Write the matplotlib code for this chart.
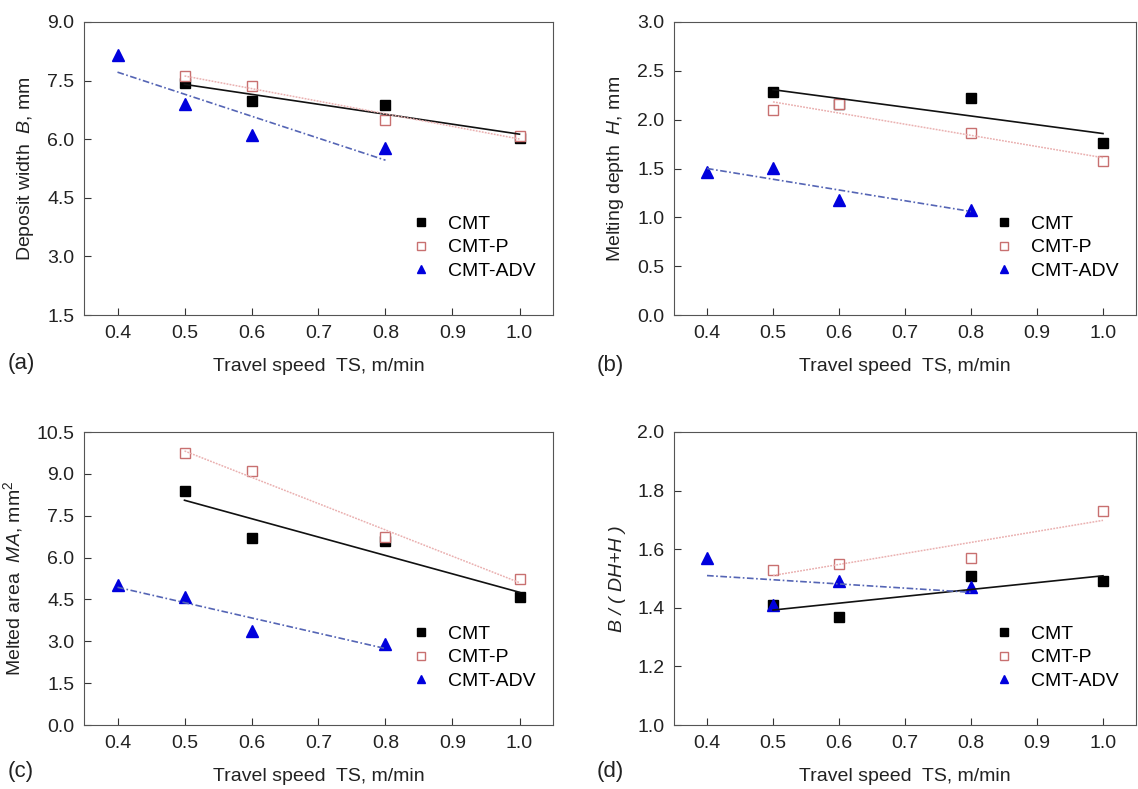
import numpy as np
import matplotlib.pyplot as plt

plt.rcParams['font.family'] = ['Liberation Sans', 'DejaVu Sans']
plt.rcParams['mathtext.fontset'] = 'custom'
plt.rcParams['mathtext.rm'] = 'Liberation Sans'
plt.rcParams['mathtext.it'] = 'Liberation Sans:italic'

# travel speed, m/min
ts_cmt = [0.5, 0.6, 0.8, 1.0]
ts_p = [0.5, 0.6, 0.8, 1.0]
ts_adv = [0.4, 0.5, 0.6, 0.8]

# (a) deposit width B, mm
b_cmt = [7.45, 6.97, 6.88, 6.02]
b_p = [7.62, 7.37, 6.50, 6.08]
b_adv = [8.15, 6.90, 6.10, 5.77]

# (b) melting depth H, mm
h_cmt = [2.28, 2.16, 2.22, 1.76]
h_p = [2.10, 2.16, 1.86, 1.58]
h_adv = [1.46, 1.51, 1.18, 1.08]

# (c) melted area MA, mm2
ma_cmt = [8.40, 6.70, 6.60, 4.58]
ma_p = [9.75, 9.10, 6.72, 5.22]
ma_adv = [5.02, 4.58, 3.38, 2.92]

# (d) B/(DH+H)
r_cmt = [1.41, 1.37, 1.51, 1.49]
r_p = [1.53, 1.55, 1.57, 1.73]
r_adv = [1.57, 1.41, 1.49, 1.47]

labels = ['CMT', 'CMT-P', 'CMT-ADV']

W, H = 1138, 789
fig = plt.figure(figsize=(W / 100, H / 100), dpi=100)


def box(l, t, r, b):
    return [l / W, 1 - b / H, (r - l) / W, (b - t) / H]


def panel(rect, ys, ylim, yticks, ylabel, letter, letter_x, letter_y):
    ax = fig.add_axes(rect)
    xs = [ts_cmt, ts_p, ts_adv]
    # linear fit lines
    styles = [dict(color='#111111', ls='-', lw=1.2),
              dict(color='#eab0b0', ls=(0, (1.2, 0.8)), lw=1.1),
              dict(color='#5565b5', ls=(0, (4, 1.5, 1, 1.5)), lw=1.2)]
    for x, y, st in zip(xs, ys, styles):
        k, c = np.polyfit(x, y, 1)
        xx = np.array([min(x), max(x)])
        ax.plot(xx, k * xx + c, zorder=3, **st)
    ax.plot(ts_cmt, ys[0], ls='none', marker='s', ms=7, color='black',
            label=labels[0], zorder=2)
    ax.plot(ts_p, ys[1], ls='none', marker='s', ms=7, mfc='white',
            mec='#c87070', mew=1.0, label=labels[1], zorder=2)
    ax.plot(ts_adv, ys[2], ls='none', marker='^', ms=8, color='#0000dd',
            label=labels[2], zorder=2)
    ax.set_xlim(0.35, 1.05)
    ax.set_xticks([0.4, 0.5, 0.6, 0.7, 0.8, 0.9, 1.0])
    ax.set_ylim(*ylim)
    ax.set_yticks(yticks)
    ax.yaxis.set_major_formatter(plt.FormatStrFormatter('%.1f'))
    ax.tick_params(direction='in', length=5, labelsize=14, colors='#333333',
                   labelcolor='#222222', pad=7)
    for s in ax.spines.values():
        s.set_color('#555555')
    ax.set_xlabel('Travel speed  TS, m/min', fontsize=14, labelpad=12, color='#222222')
    if isinstance(ylabel, tuple):
        ax.set_ylabel(ylabel[0], fontsize=14, style='italic', color='#222222', labelpad=8)
    else:
        ax.set_ylabel(ylabel, fontsize=14, color='#222222', labelpad=8)
    ax.legend(loc='lower right', bbox_to_anchor=(1.0, 0.06), frameon=False,
              fontsize=14, handletextpad=0.9, labelspacing=0.3, handlelength=1.0,
              markerscale=0.75)
    fig.text(letter_x / W, 1 - letter_y / H, letter, fontsize=16,
             ha='left', va='center', color='#222222')
    return ax


panel(box(84, 22, 553, 315), [b_cmt, b_p, b_adv], (1.5, 9.0),
      [1.5, 3.0, 4.5, 6.0, 7.5, 9.0], r'Deposit width  $\it{B}$, mm', '(a)', 8, 364)
panel(box(674, 22, 1136, 315), [h_cmt, h_p, h_adv], (0.0, 3.0),
      [0.0, 0.5, 1.0, 1.5, 2.0, 2.5, 3.0], r'Melting depth  $\it{H}$, mm', '(b)', 597, 366)
panel(box(84, 432, 553, 725), [ma_cmt, ma_p, ma_adv], (0.0, 10.5),
      [0.0, 1.5, 3.0, 4.5, 6.0, 7.5, 9.0, 10.5], r'Melted area  $\it{MA}$, mm$^2$', '(c)', 8, 772)
panel(box(674, 432, 1136, 725), [r_cmt, r_p, r_adv], (1.0, 2.0),
      [1.0, 1.2, 1.4, 1.6, 1.8, 2.0], ('B / ( DH+H )',), '(d)', 597, 772)

fig.savefig('out.png', dpi=100)
